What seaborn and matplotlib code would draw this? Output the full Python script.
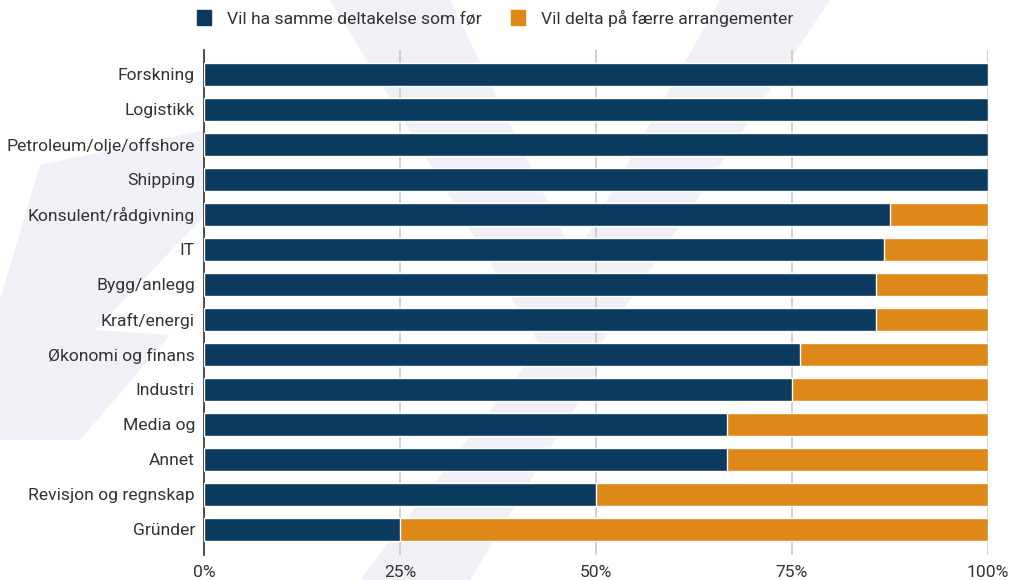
import numpy as np
import pandas as pd
import seaborn as sns
import matplotlib.pyplot as plt
from matplotlib.patches import Patch, Polygon

sns.set_style("white")
plt.rcParams["font.family"] = ["Roboto", "DejaVu Sans"]

# data
categories = ["Forskning", "Logistikk", "Petroleum/olje/offshore", "Shipping",
              "Konsulent/rådgivning", "IT", "Bygg/anlegg", "Kraft/energi",
              "Økonomi og finans", "Industri", "Media og", "Annet",
              "Revisjon og regnskap", "Gründer"]
same = [100, 100, 100, 100, 87.5, 86.7, 85.7, 85.7, 76.0, 75.0, 66.7, 66.7, 50.0, 25.0]
fewer = [0, 0, 0, 0, 12.5, 13.3, 14.3, 14.3, 24.0, 25.0, 33.3, 33.3, 50.0, 75.0]
series_names = ["Vil ha samme deltakelse som før", "Vil delta på færre arrangementer"]

blue = "#0a3a5e"
orange = "#dd8818"
text_col = "#333333"

df = pd.DataFrame({"kategori": categories, "same": same, "fewer": fewer})
df["total"] = df["same"] + df["fewer"]

W, H = 1018, 580
fig = plt.figure(figsize=(W / 100, H / 100), dpi=100)

# faint watermark behind everything (pixel coords, y from top)
bg = fig.add_axes([0, 0, 1, 1], zorder=0)
bg.set_xlim(0, W)
bg.set_ylim(H, 0)
bg.axis("off")
wm = "#f0f0f7"
shapes = [
    [(330, 0), (450, 0), (600, 310), (540, 345)],
    [(720, 0), (830, 0), (600, 345), (545, 310)],
    [(560, 320), (610, 350), (470, 580), (360, 580)],
    [(40, 165), (205, 130), (205, 215), (95, 330), (170, 335), (80, 440), (0, 440), (0, 300)],
]
for pts in shapes:
    bg.add_patch(Polygon(pts, closed=True, facecolor=wm, edgecolor="none"))

ax = fig.add_axes([204 / W, 1 - 555 / H, 784 / W, 505 / H], zorder=1)
ax.patch.set_alpha(0)

sns.barplot(data=df, y="kategori", x="total", color=orange, width=0.66,
            saturation=1, orient="h", ax=ax, zorder=2)
sns.barplot(data=df, y="kategori", x="same", color=blue, width=0.66,
            saturation=1, orient="h", ax=ax, zorder=3)

ax.set_xlim(0, 100)
ax.set_ylim(13.74, -0.69)
ax.set_xticks([0, 25, 50, 75, 100])
ax.set_xticklabels(["0%", "25%", "50%", "75%", "100%"])
ax.xaxis.grid(True, color="#c8c8c8", linewidth=1.2, zorder=0)
ax.set_axisbelow(True)
ax.set_xlabel("")
ax.set_ylabel("")
for s in ["top", "right", "bottom"]:
    ax.spines[s].set_visible(False)
ax.spines["left"].set_color(text_col)
ax.spines["left"].set_linewidth(1.2)
ax.tick_params(axis="both", length=0, labelsize=12.6, colors=text_col)
ax.tick_params(axis="x", pad=7)
ax.tick_params(axis="y", pad=6.5)

handles = [Patch(color=blue), Patch(color=orange)]
leg = fig.legend(handles, series_names, loc="center", bbox_to_anchor=(495 / W, 1 - 18 / H),
                 ncol=2, frameon=False, fontsize=12.6, handlelength=0.8, handleheight=1.0,
                 columnspacing=1.7, handletextpad=0.9, labelcolor=text_col)
leg.set_zorder(2)

fig.savefig("out.png", dpi=100)
plt.close()
